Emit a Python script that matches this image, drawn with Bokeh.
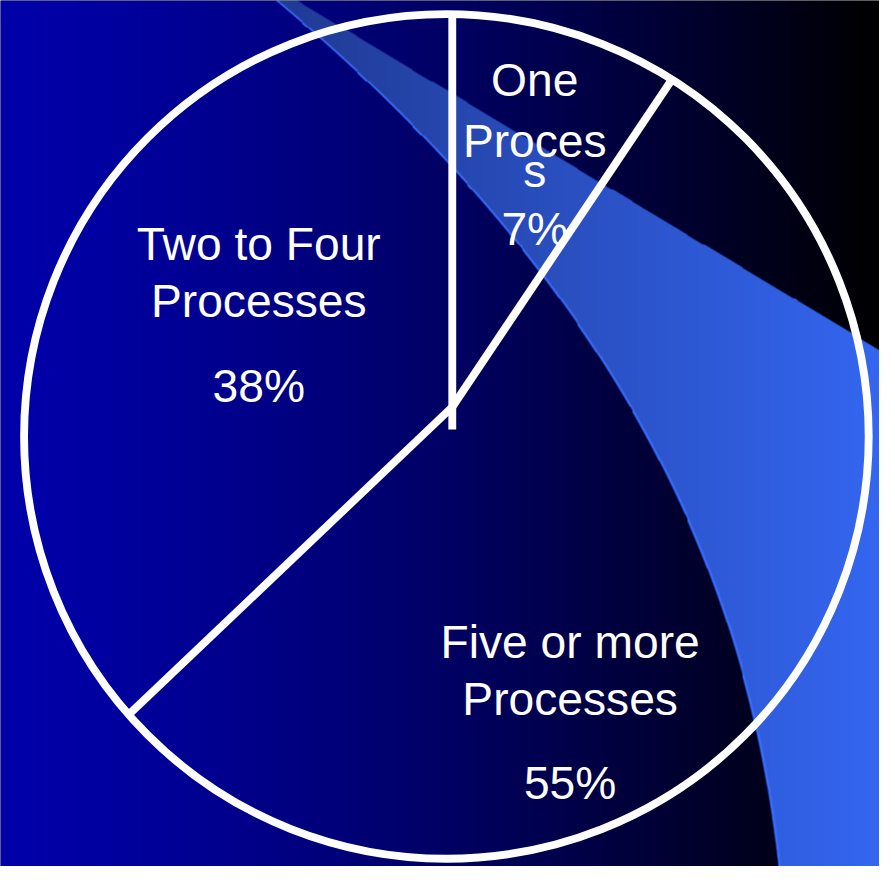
import numpy as np
from bokeh.plotting import figure
from bokeh.models import Range1d, ColumnDataSource
from bokeh.core.properties import value
from bokeh.embed import file_html
from bokeh.resources import INLINE

# ---------------- data ----------------
categories = ["One Process", "Five or more Processes", "Two to Four Processes"]
percent = [7, 55, 38]
# slice sizes as they are drawn in the picture (clockwise from 12 o'clock)
drawn_share = [9.4, 53.5, 37.1]
name_lines = [["One", "Proces", "s"], ["Five or more", "Processes"], ["Two to Four", "Processes"]]

# ---------------- layout / style (reference picture pixels, 895x882) ----------------
W, H = 895, 882
PW, PH = 879, 866           # figure size (page has 8px margin)
SCALE = PW / W
def sy(v):                  # picture y -> data y
    return H - v

pie_cx, pie_cy, pie_r = 454, sy(444), 430
hub_x, hub_y = 460, sy(414)
spoke_tail = [23, 0, 0]
label_x = [544, 580, 263]
label_baselines = [[81, 143, 174, 233], [653, 711, 797], [248, 306, 393]]
FONT = "Liberation Sans"
FONT_PX = 47 * SCALE
LW = 8 * SCALE

# ---------------- background (gradient + swoosh) ----------------
xs = np.arange(W) + 0.5
ys = np.arange(H) + 0.5
X, Y = np.meshgrid(xs, ys)
t = X / W
R = np.zeros_like(X)
G = np.zeros_like(X)
B = 170.0 * (1 - t ** 1.3)

edge_y = [0, 87, 170, 300, 347, 413, 500, 600, 733, 882]
edge_x = [280, 380, 457, 562, 600, 643, 690, 725, 765, 793]
coef = np.polyfit(edge_y, edge_x, 3)
cx = np.polyval(coef, Y)
d = X - cx
below = (Y - 0.6 * (X - 302)) * 0.857
a_sw = np.clip(d * 0.8 + 0.5, 0, 1) * np.clip(below + 0.5, 0, 1)
u = np.clip((X - 280) / (W - 280), 0, 1)
sr = 32 + 20 * u
sg = 58 + 44 * u
sb = 148 + 92 * u
edge = np.clip(d * 0.8 + 0.5, 0, 1) * np.clip(2.6 - d * 0.8, 0, 1)
sr = sr * (1 - edge) + 55 * edge
sg = sg * (1 - edge) + 110 * edge
sb = sb * (1 - edge) + 255 * edge
R = R * (1 - a_sw) + sr * a_sw
G = G * (1 - a_sw) + sg * a_sw
B = B * (1 - a_sw) + sb * a_sw

img = np.empty((H, W), dtype=np.uint32)
view = img.view(dtype=np.uint8).reshape((H, W, 4))
view[:, :, 0] = np.clip(R, 0, 255).astype(np.uint8)
view[:, :, 1] = np.clip(G, 0, 255).astype(np.uint8)
view[:, :, 2] = np.clip(B, 0, 255).astype(np.uint8)
view[:, :, 3] = 255
img = np.ascontiguousarray(img[::-1])

# ---------------- figure ----------------
p = figure(width=PW, height=PH, x_range=Range1d(0, W), y_range=Range1d(0, H),
           output_backend="svg", toolbar_location=None, min_border=0,
           x_axis_type=None, y_axis_type=None)
p.grid.visible = False
p.outline_line_color = None
p.background_fill_color = "#000000"
p.border_fill_color = "#000000"

p.image_rgba(image=[img], x=0, y=0, dw=W, dh=H)

# pie outline
p.circle(x=[pie_cx], y=[pie_cy], radius=pie_r, fill_color=None,
         line_color="white", line_width=LW)

# spokes (slice boundaries)
cum = np.concatenate([[0], np.cumsum(drawn_share)[:-1]])
theta = cum / 100.0 * 2 * np.pi
dx, dy = np.sin(theta), np.cos(theta)
mx, my = hub_x - pie_cx, hub_y - pie_cy
md = mx * dx + my * dy
tt = -md + np.sqrt(md ** 2 - (mx ** 2 + my ** 2 - pie_r ** 2))
x0 = hub_x - np.array(spoke_tail) * dx
y0 = hub_y - np.array(spoke_tail) * dy
x1 = hub_x + tt * dx
y1 = hub_y + tt * dy
p.segment(x0=x0, y0=y0, x1=x1, y1=y1, line_color="white", line_width=LW, line_cap="butt")

# labels
tx, tyv, txt = [], [], []
for i, (lines, pct) in enumerate(zip(name_lines, percent)):
    all_lines = lines + [f"{pct}%"]
    for line, base in zip(all_lines, label_baselines[i]):
        tx.append(label_x[i])
        tyv.append(sy(base))
        txt.append(line)
src = ColumnDataSource(dict(x=tx, y=tyv, text=txt))
p.text(x="x", y="y", text="text", source=src, text_font=value(FONT),
       text_font_size=f"{FONT_PX:.1f}px",
       text_color="white", text_align="center", text_baseline="alphabetic")

open("out.html", "w").write(file_html(p, INLINE))
